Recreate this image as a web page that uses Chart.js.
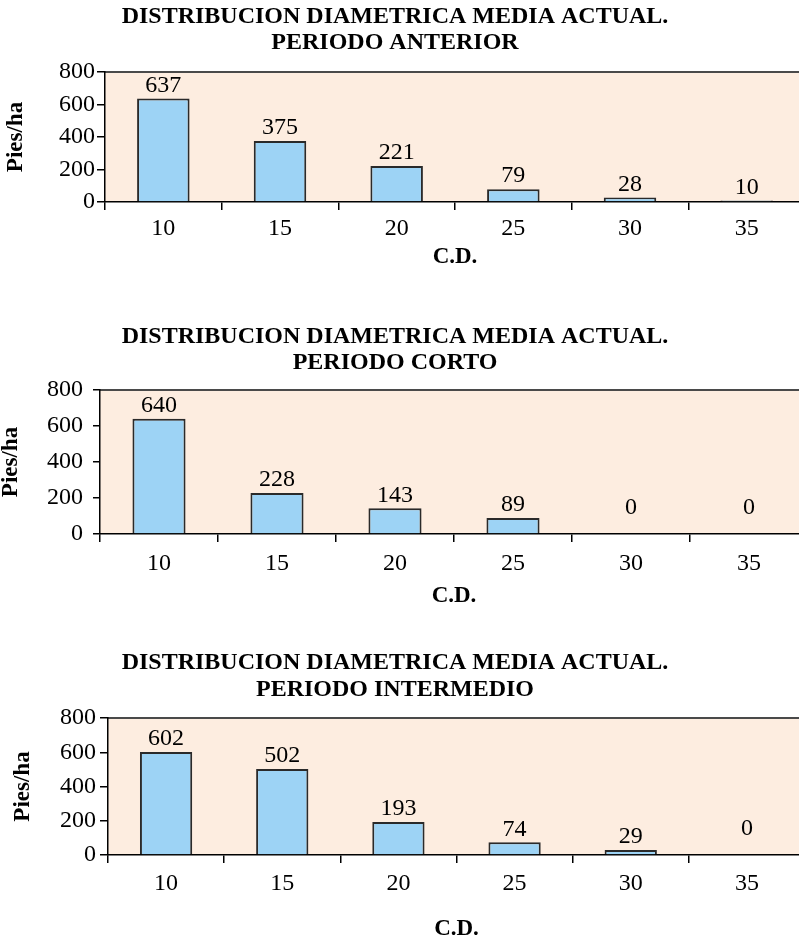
<!DOCTYPE html>
<html>
<head>
<meta charset="utf-8">
<script src="https://cdn.jsdelivr.net/npm/chart.js@4/dist/chart.umd.min.js"></script>
<style>
  html, body { margin: 0; padding: 0; background: #fff; overflow: hidden; }
  body { width: 799px; height: 941px; position: relative; }
  canvas { position: absolute; left: 0; }
</style>
</head>
<body>
<canvas id="c1" width="805" height="280" style="top:0px"></canvas>
<canvas id="c2" width="808" height="310" style="top:300px"></canvas>
<canvas id="c3" width="805" height="301" style="top:640px"></canvas>
<script>
// clases diametricas
const categories = ["10", "15", "20", "25", "30", "35"];

// pies/ha por periodo
const anterior = [637, 375, 221, 79, 28, 10];
const corto = [640, 228, 143, 89, 0, 0];
const intermedio = [602, 502, 193, 74, 29, 0];

const yTicks = [0, 200, 400, 600, 800];

const titleLine1 = "DISTRIBUCION DIAMETRICA MEDIA ACTUAL.";
const periodNames = ["PERIODO ANTERIOR", "PERIODO CORTO", "PERIODO INTERMEDIO"];

const SERIF = "'Liberation Serif', 'Times New Roman', serif";

// fondo del area, linea superior, titulo y etiquetas de datos
const decorPlugin = {
  id: "decor",
  beforeDraw(chart, args, opts) {
    const { ctx, chartArea: a } = chart;
    ctx.save();
    ctx.fillStyle = "#FDEDE0";
    ctx.fillRect(a.left, a.top, a.right - a.left, a.bottom - a.top);
    ctx.strokeStyle = "#4a4a4a";
    ctx.lineWidth = 2;
    ctx.beginPath();
    ctx.moveTo(a.left, a.top);
    ctx.lineTo(a.right, a.top);
    ctx.stroke();
    ctx.restore();
  },
  afterDraw(chart, args, opts) {
    const { ctx } = chart;
    ctx.save();
    ctx.fillStyle = "#000";
    ctx.textAlign = "center";
    ctx.textBaseline = "middle";
    ctx.font = "bold 24px " + SERIF;
    opts.lines.forEach((t, i) => ctx.fillText(t, 395, opts.y[i]));

    ctx.font = "24px " + SERIF;
    const meta = chart.getDatasetMeta(0);
    const data = chart.data.datasets[0].data;
    meta.data.forEach((bar, i) => {
      const off = data[i] === 0 ? 26 : 13;
      ctx.fillText(String(data[i]), bar.x, bar.y - off);
    });
    ctx.restore();
  }
};

function makeChart(id, values, cfg) {
  const ctx = document.getElementById(id).getContext("2d");
  return new Chart(ctx, {
    type: "bar",
    data: {
      labels: categories,
      datasets: [{
        data: values,
        backgroundColor: "#9DD3F5",
        borderColor: "#2a2a2a",
        borderWidth: 2,
        barPercentage: 0.9,
        categoryPercentage: 0.5
      }]
    },
    plugins: [decorPlugin],
    options: {
      responsive: false,
      animation: false,
      layout: { padding: { top: cfg.top, left: 0, right: 0, bottom: 0 } },
      plugins: {
        legend: { display: false },
        tooltip: { enabled: false },
        decor: { lines: [titleLine1, cfg.period], y: cfg.titleY }
      },
      scales: {
        x: {
          offset: true,
          grid: { offset: true, drawOnChartArea: false, tickLength: 8, color: "#000", lineWidth: 1.5 },
          border: { color: "#000", width: 1.5 },
          ticks: { color: "#000", font: { family: SERIF, size: 24 }, padding: cfg.xPad, maxRotation: 0 },
          title: {
            display: true, text: "C.D.", color: "#000",
            font: { family: SERIF, size: 23, weight: "bold", lineHeight: 1 },
            padding: { top: 0, bottom: cfg.xTitlePad }
          },
          afterFit(scale) { scale.height = cfg.xHeight; }
        },
        y: {
          min: 0, max: 800,
          afterBuildTicks(scale) { scale.ticks = yTicks.map(v => ({ value: v })); },
          grid: { drawOnChartArea: false, tickLength: cfg.yTick, color: "#000", lineWidth: 1.5 },
          border: { color: "#000", width: 1.5 },
          ticks: { color: "#000", font: { family: SERIF, size: 24 }, padding: cfg.yPad },
          title: {
            display: true, text: "Pies/ha", color: "#000",
            font: { family: SERIF, size: 23, weight: "bold", lineHeight: 1 },
            padding: { top: cfg.yTitlePad, bottom: 0 }
          },
          afterFit(scale) { scale.width = cfg.yWidth; }
        }
      }
    }
  });
}

makeChart("c1", anterior, {
  period: periodNames[0], titleY: [17, 43], top: 72,
  xHeight: 78, xPad: 4, xTitlePad: 11,
  yWidth: 105, yTick: 8, yPad: 2, yTitlePad: 5
});
makeChart("c2", corto, {
  period: periodNames[1], titleY: [37, 63], top: 90,
  xHeight: 76, xPad: 7, xTitlePad: 2,
  yWidth: 100, yTick: 7, yPad: 10, yTitlePad: 0
});
makeChart("c3", intermedio, {
  period: periodNames[2], titleY: [23, 50], top: 78,
  xHeight: 86, xPad: 6, xTitlePad: 0,
  yWidth: 108, yTick: 8, yPad: 4, yTitlePad: 12
});
</script>
</body>
</html>
